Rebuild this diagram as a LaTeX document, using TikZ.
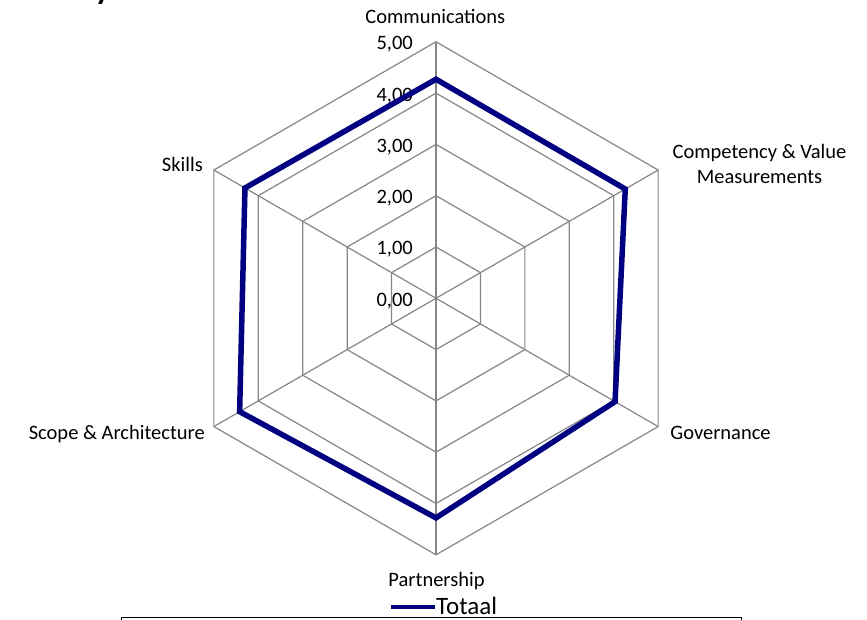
\documentclass[tikz,border=0pt]{standalone}
\usepackage{fontspec}
\setmainfont{Carlito}
\usepackage{tikz}
\usetikzlibrary{calc}
\definecolor{gridgray}{HTML}{868686}
\definecolor{totaal}{HTML}{000080}

\begin{document}
\begin{tikzpicture}[x=1pt,y=1pt,
	axislabel/.style={font=\fontsize{20.5}{25}\selectfont, inner sep=0pt},
	ticklabel/.style={axislabel, anchor=base east},
	spoke/.style={draw=gridgray, line width=1.2pt},
	series/.style={draw=totaal, line width=5.5pt, line join=miter}]
	\useasboundingbox (0,0) rectangle (867,620);
	\begin{scope}
		\clip (0,0) rectangle (867,620);
		\node (title) [anchor=base west, inner sep=0pt, font=\fontsize{32}{36}\selectfont\bfseries] at (95,620) {y};
	\end{scope}
	\coordinate (c) at (436,321.7);
	\foreach \a [count=\i] in {90,30,-30,-90,-150,150}
	{
		\foreach \k in {1,...,5}
			\coordinate (v\i-\k) at ($(c)+(\a:{51.3*\k})$);
	}
	\foreach \k in {1,...,5}
		\draw[spoke] (v1-\k) -- (v2-\k) -- (v3-\k) -- (v4-\k) -- (v5-\k) -- (v6-\k) -- cycle;
	\foreach \i in {1,...,6}
		\draw[spoke] (c) -- (v\i-5);
	\foreach \k in {0,...,5}
		\node (t\k) [ticklabel] at ($(c)+(-23,{51.3*\k-8})$) {\k,00};
	\foreach \a/\v [count=\i] in {90/4.27,30/4.26,-30/4.03,-90/4.28,-150/4.42,150/4.30}
		\coordinate (d\i) at ($(c)+(\a:{51.3*\v})$);
	\draw[series] (d1) -- (d2) -- (d3) -- (d4) -- (d5) -- (d6) -- cycle;
	\node (comm) [axislabel, anchor=base] at (435.3,596) {Communications};
	\node (comp) [axislabel, anchor=base, align=center] at (759.5,436.7) {Competency \& Value\\Measurements};
	\node (gov) [axislabel, anchor=base] at (720.5,180) {Governance};
	\node (part) [axislabel, anchor=base] at (436.5,33.3) {Partnership};
	\node (scope) [axislabel, anchor=base east] at (205,180) {Scope \& Architecture};
	\node (skills) [axislabel, anchor=base east] at (203,448.3) {Skills};
	\draw[line width=1pt] (121,-10) |- (741,2.5) -- (741,-10);
	\coordinate (l1) at (390.7,13.3);
	\coordinate (l2) at (435,13.3);
	\draw[totaal, line width=4pt] (l1) -- (l2);
	\node (leg) [anchor=base west, inner sep=0pt, font=\fontsize{25}{30}\selectfont] at (436,5) {Totaal};
\end{tikzpicture}
\end{document}
